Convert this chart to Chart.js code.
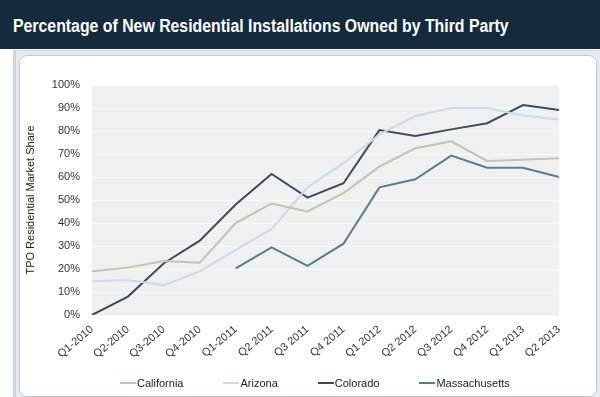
<!DOCTYPE html>
<html>
<head>
<meta charset="utf-8">
<script src="https://cdn.jsdelivr.net/npm/chart.js@4/dist/chart.umd.min.js"></script>
<style>
  html, body { margin: 0; padding: 0; background: #fff; }
  #page { position: relative; width: 600px; height: 397px; overflow: hidden; font-family: "Liberation Sans", Arial, sans-serif; }
  #header { position: absolute; left: 0; top: 0; width: 600px; height: 49px; background: #142a3d; }
  #header h1 { margin: 0; position: absolute; left: 13px; top: 16px; color: #fff; font: bold 18px "Liberation Sans", Arial, sans-serif; line-height: 20px; white-space: nowrap; transform: scaleX(0.88); transform-origin: left center; }
  #outer { position: absolute; left: 13px; top: 50px; width: 587px; height: 347px; background: #e4eaf0; border-left: 3px solid #c9d5e0; border-top: 1px solid #c9d5e0; }
  #inner { position: absolute; left: 19px; top: 55px; width: 576px; height: 340px; background: #fff; border: 1px solid #bccad7; border-radius: 8px; }
  #wrap { position: absolute; left: 0; top: 0; width: 600px; height: 397px; }
  #legend { position: absolute; left: 120px; top: 376px; display: flex; gap: 40px; font-size: 11px; color: #222; line-height: 14px; }
  #legend .item { display: flex; align-items: center; }
  #legend .swatch { width: 16px; height: 2px; margin-right: 1px; }
</style>
</head>
<body>
<div id="page">
  <div id="header"><h1>Percentage of New Residential Installations Owned by Third Party</h1></div>
  <div id="outer"></div>
  <div id="inner"></div>
  <div id="wrap"><canvas id="chart" width="600" height="397"></canvas></div>
  <div id="legend"></div>
</div>
<script>
const quarters = ['Q1-2010', 'Q2-2010', 'Q3-2010', 'Q4-2010', 'Q1-2011', 'Q2 2011', 'Q3 2011',
    'Q4 2011', 'Q1 2012', 'Q2 2012', 'Q3 2012', 'Q4 2012', 'Q1 2013', 'Q2 2013'];
const california = [19, 20.6, 23.5, 22.7, 40, 48.5, 45, 53, 64.5, 72.5, 75.5, 67, 67.5, 68.2];
const arizona = [14.7, 15.2, 13, 19, 28.3, 37.4, 55.5, 66, 78.5, 86.5, 90, 90, 86.7, 85];
const colorado = [0, 8, 22.5, 32.3, 48, 61.3, 51, 57.3, 80.4, 77.8, 80.7, 83.4, 91.3, 89.1];
const massachusetts = [null, null, null, null, 20.3, 29.4, 21.4, 31, 55.5, 59, 69.3, 64, 64, 60];
const yTicks = [0, 10, 20, 30, 40, 50, 60, 70, 80, 90, 100];

// grey plot background behind the lines
const plotBg = {
    id: 'plotBg',
    beforeDraw(chart) {
        const a = chart.chartArea;
        const ctx = chart.ctx;
        ctx.save();
        ctx.fillStyle = '#f0f0f0';
        ctx.fillRect(a.left, a.top, a.right - a.left, a.bottom - a.top);
        ctx.restore();
    }
};

// legend as html, built from the chart's own legend items
const htmlLegend = {
    id: 'htmlLegend',
    afterUpdate(chart) {
        const box = document.getElementById('legend');
        box.innerHTML = '';
        const items = chart.options.plugins.legend.labels.generateLabels(chart);
        items.forEach(item => {
            const el = document.createElement('div');
            el.className = 'item';
            const sw = document.createElement('span');
            sw.className = 'swatch';
            sw.style.background = item.strokeStyle;
            const txt = document.createElement('span');
            txt.textContent = item.text;
            el.appendChild(sw);
            el.appendChild(txt);
            box.appendChild(el);
        });
    }
};

function line(label, data, color) {
    return {
        label: label,
        data: data,
        borderColor: color,
        backgroundColor: color,
        borderWidth: 2,
        pointRadius: 0,
        tension: 0,
        spanGaps: false
    };
}

Chart.defaults.font.family = '"Liberation Sans", Arial, sans-serif';
Chart.defaults.color = '#333';

var ctx = document.getElementById('chart').getContext('2d');
var myChart = new Chart(ctx, {
    type: 'line',
    data: {
        labels: quarters,
        datasets: [
            line('California', california, '#c3c4ae'),
            line('Arizona', arizona, '#c8dde7'),
            line('Colorado', colorado, '#3c4c5c'),
            line('Massachusetts', massachusetts, '#4d8197')
        ]
    },
    plugins: [plotBg, htmlLegend],
    options: {
        responsive: false,
        animation: false,
        layout: { padding: { left: 24, right: 41, top: 85, bottom: 37 } },
        plugins: {
            title: { display: false },
            tooltip: { enabled: false },
            legend: { display: false }
        },
        scales: {
            x: {
                offset: false,
                grid: { display: false, drawTicks: false },
                border: { display: false },
                ticks: {
                    minRotation: 40,
                    maxRotation: 40,
                    autoSkip: false,
                    padding: 8,
                    color: '#333',
                    font: { size: 11 }
                },
                afterFit(scale) { scale.height = 45; }
            },
            y: {
                min: 0,
                max: 100,
                afterBuildTicks(scale) { scale.ticks = yTicks.map(v => ({ value: v })); },
                grid: { color: '#fafafa', lineWidth: 1, drawTicks: false },
                border: { display: false },
                ticks: {
                    padding: 12,
                    color: '#333',
                    font: { size: 11 },
                    callback: v => v + '%'
                },
                title: {
                    display: true,
                    text: 'TPO Residential Market Share',
                    color: '#222',
                    font: { size: 11 },
                    padding: 0
                },
                afterFit(scale) { scale.width = 68; }
            }
        }
    }
});
</script>
</body>
</html>
